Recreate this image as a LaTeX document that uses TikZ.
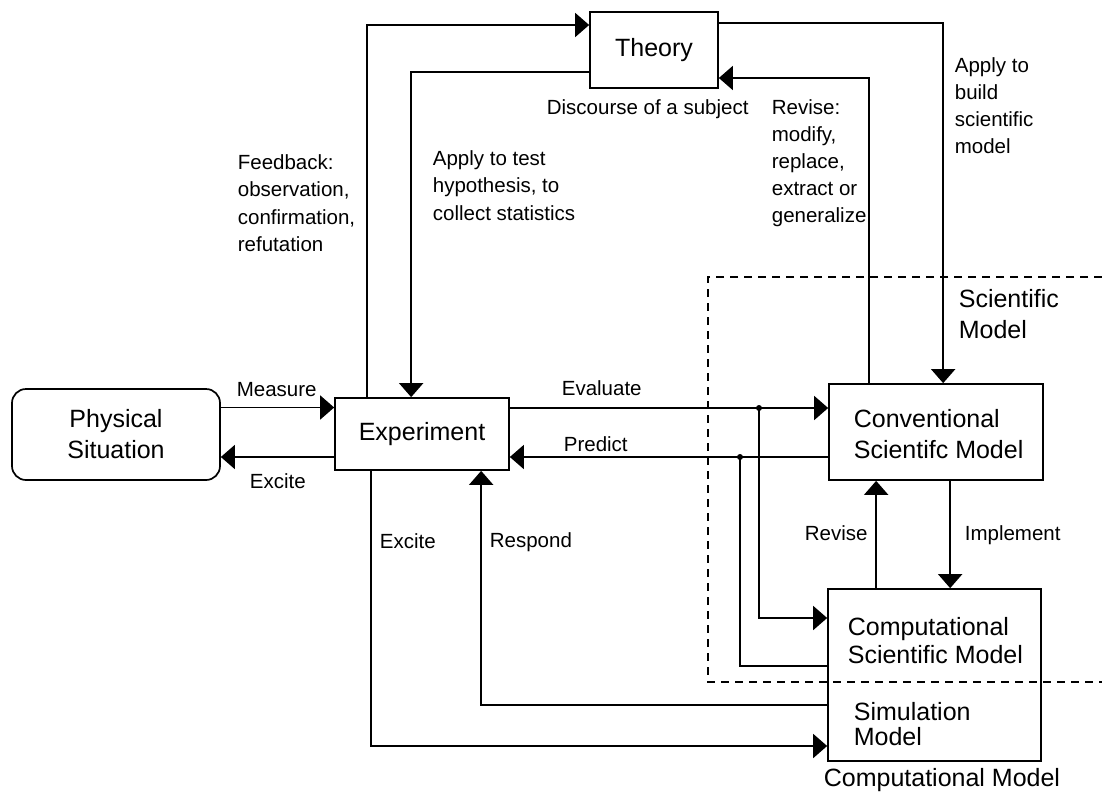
\documentclass[tikz,border=0pt]{standalone}
\usepackage{fontspec}
\setmainfont{Liberation Sans}
\usetikzlibrary{arrows.meta}
\begin{document}
\begin{tikzpicture}[x=1pt,y=-1pt,
  line width=1.7pt,
  box/.style={draw, rectangle, inner sep=0pt, font=\fontsize{25}{31}\selectfont, align=center},
  arr/.style={-{Triangle[length=14pt,width=24pt]}},
  lbl/.style={inner sep=0pt, anchor=base west, align=left, font=\fontsize{20.5}{27.5}\selectfont},
  big/.style={inner sep=0pt, anchor=base west, align=left, font=\fontsize{25}{31}\selectfont},
]
\useasboundingbox (0,0) rectangle (1102,792);

% boxes
\node[box, minimum width=128pt, minimum height=76pt] (th) at (654,50) {Theory};
\node[box, rounded corners=14pt, minimum width=208pt, minimum height=91pt] (ph) at (116,434.5) {Physical\\Situation};
\node[box, minimum width=174pt, minimum height=72pt] (ex) at (422,434) {Experiment};
\node[box, minimum width=214pt, minimum height=96pt] (cv) at (936,432) {};
\node[box, minimum width=213pt, minimum height=172pt] (cp) at (934.5,675) {};

% box texts (base = last line's baseline)
\node[big] (cvt) at (853,458) {Conventional\\Scientifc Model};
\node[big, font=\fontsize{25}{28}\selectfont] (cpt) at (847,663) {Computational\\Scientific Model};
\node[big, font=\fontsize{25}{25}\selectfont] (smt) at (853,745) {Simulation\\Model};
\node[big] (cmt) at (823,786) {Computational Model};
\node[big] (smd) at (958,338) {Scientific\\Model};

% dashed region
\draw[dash pattern=on 8pt off 6pt, line width=1.4pt] (1102,277) -- (708,277) -- (708,682) -- (1102,682);

% connectors to/from theory
\draw[arr] ([xshift=33pt]ex.north west) |- ([yshift=25pt]th.west);
\draw[arr] ([yshift=-22pt]th.west) -| ([xshift=77pt]ex.north west);
\draw[arr] ([yshift=27pt]th.east) -| ([xshift=115pt]cv.north west);
\draw[arr] ([xshift=41pt]cv.north west) |- ([yshift=-28pt]th.east);

% physical <-> experiment
\coordinate (m1) at ([yshift=27pt]ph.east);
\draw[arr] (m1) -- (m1 -| ex.west);
\coordinate (x1) at ([yshift=-23pt]ex.west);
\draw[arr] (x1) -- (x1 -| ph.east);

% experiment <-> conventional
\coordinate (ev) at ([yshift=26pt]ex.east);
\draw[arr] (ev) -- (ev -| cv.west);
\coordinate (pr) at ([yshift=-25pt]cv.west);
\draw[arr] (pr) -- (pr -| ex.east);

% junctions
\coordinate (j1) at (759,408);
\coordinate (j2) at (740,457);
\draw[arr] (j1) |- ([yshift=57pt]cp.west);
\draw (j2) |- ([yshift=9pt]cp.west);
\fill (j1) circle (3pt);
\fill (j2) circle (3pt);

% simulation <-> experiment
\draw[arr] ([yshift=-30pt]cp.west) -| ([xshift=147pt]ex.south west);
\draw[arr] ([xshift=37pt]ex.south west) |- ([yshift=-71pt]cp.west);

% conventional <-> computational
\coordinate (rv) at ([xshift=49pt]cp.north west);
\draw[arr] (rv) -- (rv |- cv.south);
\coordinate (im) at ([xshift=122pt]cv.south west);
\draw[arr] (im) -- (im |- cp.north);

% labels (base = last line's baseline)
\node[lbl] (l1) at (237,251.5) {Feedback:\\observation,\\confirmation,\\refutation};
\node[lbl] (l2) at (432,220) {Apply to test\\hypothesis, to\\collect statistics};
\node[lbl] (l3) at (546,114) {Discourse of a subject};
\node[lbl, font=\fontsize{20.5}{27.2}\selectfont] (l4) at (771,222.8) {Revise:\\modify,\\replace,\\extract or\\generalize};
\node[lbl, font=\fontsize{20.5}{27}\selectfont] (l5) at (954,153) {Apply to\\build\\scientific\\model};
\node[lbl] (l6) at (236,396) {Measure};
\node[lbl] (l7) at (249,488) {Excite};
\node[lbl] (l8) at (561,395) {Evaluate};
\node[lbl] (l9) at (563,451) {Predict};
\node[lbl] (l10) at (379,548) {Excite};
\node[lbl] (l11) at (489,547) {Respond};
\node[lbl] (l12) at (804,540) {Revise};
\node[lbl] (l13) at (964,540) {Implement};
\end{tikzpicture}
\end{document}
